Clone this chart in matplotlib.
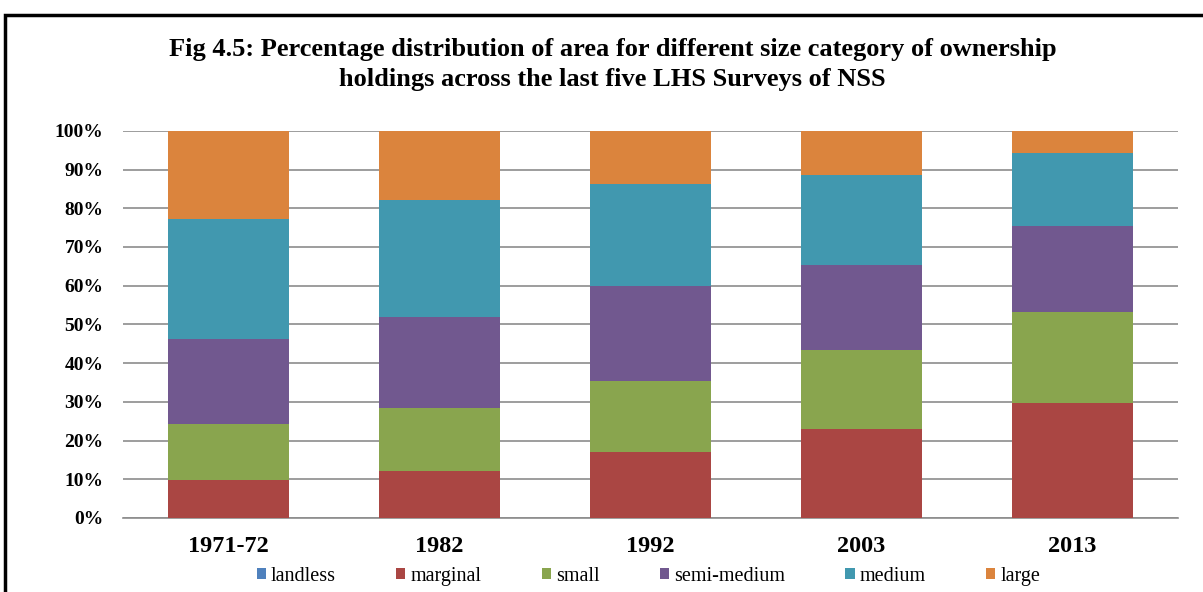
import matplotlib
matplotlib.use("Agg")
import matplotlib.pyplot as plt
import numpy as np
from matplotlib.patches import Rectangle

# survey years and area share (%) by ownership size category
years = ['1971-72', '1982', '1992', '2003', '2013']
categories = ['landless', 'marginal', 'small', 'semi-medium', 'medium', 'large']
landless = [0.0, 0.0, 0.0, 0.0, 0.0]
marginal = [9.7, 12.1, 17.1, 23.0, 29.7]
small = [14.7, 16.3, 18.3, 20.4, 23.4]
semi_medium = [21.8, 23.5, 24.5, 22.0, 22.4]
medium = [31.0, 30.3, 26.4, 23.2, 18.7]
large = [22.8, 17.8, 13.7, 11.4, 5.8]

colors = ['#4F81BD', '#AA4643', '#89A54E', '#71588F', '#4198AF', '#DB843D']
series = [landless, marginal, small, semi_medium, medium, large]

plt.rcParams['font.family'] = ['Liberation Serif', 'DejaVu Serif']

fig = plt.figure(figsize=(12.03, 5.92), dpi=100)
ax = fig.add_axes([0.1022, 0.125, 0.877, 0.654])

x = np.arange(len(years))
bottom = np.zeros(len(years))
for name, vals, c in zip(categories, series, colors):
    ax.bar(x, vals, bottom=bottom, width=0.573, color=c, label=name, zorder=3)
    bottom += np.array(vals)

ax.set_ylim(0, 100)
ax.set_xlim(-0.5, len(years) - 0.5)
ax.set_yticks(range(0, 101, 10))
ax.set_yticklabels([f'{v}%' for v in range(0, 101, 10)], fontsize=14, fontweight='bold')
ax.set_xticks(x)
ax.set_xticklabels(years, fontsize=17.5, fontweight='bold')
ax.tick_params(axis='both', length=0)
ax.tick_params(axis='y', pad=14)
ax.tick_params(axis='x', pad=13)
ax.grid(axis='y', color='#8c8c8c', linewidth=1.2, zorder=0)
for s in ['top', 'right', 'left']:
    ax.spines[s].set_visible(False)
ax.spines['bottom'].set_color('#8c8c8c')
ax.spines['bottom'].set_linewidth(1.2)

fig.text(0.509, 0.917, 'Fig 4.5: Percentage distribution of area for different size category of ownership',
         ha='center', va='center', fontsize=19, fontweight='bold')
fig.text(0.509, 0.866, 'holdings across the last five LHS Surveys of NSS',
         ha='center', va='center', fontsize=19, fontweight='bold')

handles, labels = ax.get_legend_handles_labels()
fig.legend(handles, labels, loc='center', bbox_to_anchor=(0.539, 0.027), ncol=6,
           frameon=False, prop={'family': 'Liberation Serif', 'size': 14.5},
           handlelength=0.45, handleheight=0.45,
           handletextpad=0.25, columnspacing=3.0)

# screenshot frame
fig.patches.append(Rectangle((5 / 1203, -0.1), 1.2, 1.1 - 15 / 592, transform=fig.transFigure,
                             fill=False, edgecolor='black', linewidth=2.5))

fig.savefig('out.png', dpi=100)
